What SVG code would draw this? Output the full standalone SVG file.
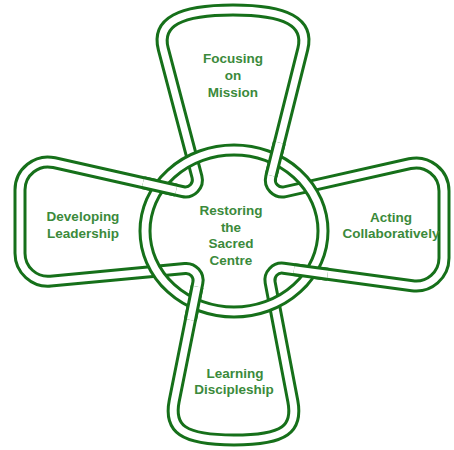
<svg xmlns="http://www.w3.org/2000/svg" width="454" height="450" viewBox="0 0 454 450">
<style>
.bo{fill:none;stroke:#16701a;stroke-width:13;stroke-linejoin:round}
.bi{fill:none;stroke:#fff;stroke-width:7;stroke-linejoin:round}
text{font-family:"Liberation Sans",Arial,sans-serif;font-weight:bold;font-size:13.5px;fill:#3b8a3b;text-anchor:middle}
</style>
<defs>
<path id="knot" d="M196.97,176.89 L163.3,49 C156.2,22.1 180,10 233,10 C286,10 309.55,22.03 302.8,49 L270.73,177.11 C268.56,185.77 276.29,193.69 285,191.73 L409.88,163.67 C427.39,159.74 444,173.03 444,190.97 L444,257.96 C444,274.92 429.06,287.97 412.25,285.69 L283.52,268.24 C275.4,267.14 268.59,274.33 270.13,282.38 L292.8,401 C298.02,428.31 286,440 234,440 C182,440 168.75,428.26 174.2,401 L197.84,282.8 C199.42,274.92 192.96,267.76 184.96,268.51 L50.63,281.12 C34.2,282.66 20,269.73 20,253.23 L20,189.99 C20,172.05 36.63,158.75 54.13,162.69 L182.72,191.66 C191.5,193.64 199.26,185.59 196.97,176.89 Z"/>
<ellipse id="ring" cx="234" cy="231" rx="89" ry="81"/>
<path id="over" d="M143,182.71 L176.2,190.19 M279.34,142.7 L271.08,175.7 M293.95,269.65 L327.65,274.22 M197.07,286.63 L190.41,319.97"/>
</defs>
<rect width="454" height="450" fill="#fff"/>
<g id="knot-band"><use href="#knot" class="bo"/><use href="#knot" class="bi"/></g>
<g id="centre-ring"><use href="#ring" class="bo"/><use href="#ring" class="bi"/></g>
<g id="crossings"><use href="#over" class="bo"/><use href="#over" class="bi"/></g>
<g id="node-top"><text x="233" y="63">Focusing</text><text x="233" y="80">on</text><text x="233" y="97">Mission</text></g>
<g id="node-centre"><text x="231" y="215">Restoring</text><text x="231" y="231.5">the</text><text x="231" y="248">Sacred</text><text x="231" y="264.5">Centre</text></g>
<g id="node-left"><text x="83" y="221">Developing</text><text x="83" y="237.5">Leadership</text></g>
<g id="node-right"><text x="391" y="222">Acting</text><text x="391" y="238">Collaboratively</text></g>
<g id="node-bottom"><text x="235" y="378">Learning</text><text x="234" y="393.5">Discipleship</text></g>
</svg>
